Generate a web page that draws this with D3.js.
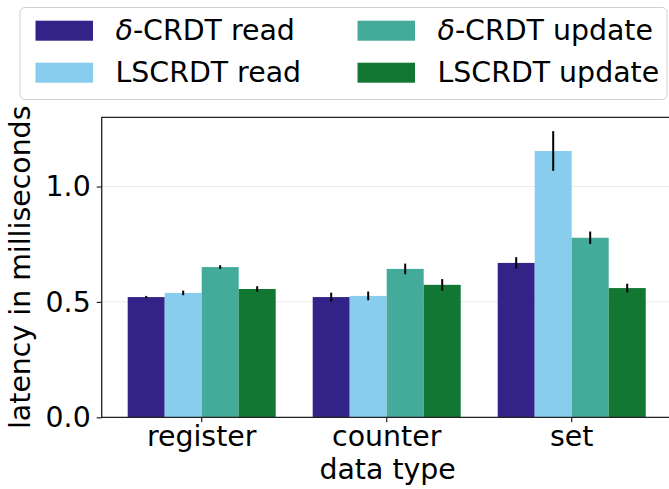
<!DOCTYPE html>
<html><head><meta charset="utf-8">
<script src="https://cdn.jsdelivr.net/npm/d3@7"></script>
<style>
html,body{margin:0;padding:0;background:#fff;}
svg{display:block;font-family:"DejaVu Sans",sans-serif;}
</style></head>
<body>
<script>
const categories = ["register", "counter", "set"];
const seriesNames = ["δ-CRDT read", "LSCRDT read", "δ-CRDT update", "LSCRDT update"];
const deltaRead = [0.521, 0.521, 0.669];
const lsRead = [0.539, 0.526, 1.154];
const deltaUpdate = [0.651, 0.643, 0.778];
const lsUpdate = [0.556, 0.574, 0.560];
const deltaReadErr = [0.005, 0.019, 0.025];
const lsReadErr = [0.010, 0.019, 0.086];
const deltaUpdateErr = [0.008, 0.023, 0.027];
const lsUpdateErr = [0.012, 0.025, 0.019];
const yTicks = [0.0, 0.5, 1.0];
const colors = ["#332288", "#88CCEE", "#44AA99", "#117733"];

const values = [deltaRead, lsRead, deltaUpdate, lsUpdate];
const errs = [deltaReadErr, lsReadErr, deltaUpdateErr, lsUpdateErr];

const W = 669, H = 489;
const L = 101.7, R = 671.6, T = 117.3, B = 417.3;
const FS = 28.4;

const svg = d3.select("body").append("svg").attr("width", W).attr("height", H);

const x = d3.scaleBand().domain(categories).range([109.2, 664.2]).paddingInner(0.2).paddingOuter(0.1);
const xs = d3.scaleBand().domain(seriesNames).range([0, x.bandwidth()]);
const y = d3.scaleLinear().domain([0, 1.3]).range([B, T]);

// grid
svg.append("g").selectAll("line").data(yTicks).join("line")
  .attr("x1", L).attr("x2", R)
  .attr("y1", d => y(d)).attr("y2", d => y(d))
  .attr("stroke", "#ebebeb").attr("stroke-width", 1);

// bars
const data = [];
categories.forEach((c, i) => seriesNames.forEach((s, j) => data.push({c, s, j, v: values[j][i], e: errs[j][i]})));
svg.append("g").selectAll("rect").data(data).join("rect")
  .attr("x", d => x(d.c) + xs(d.s))
  .attr("width", xs.bandwidth())
  .attr("y", d => y(d.v))
  .attr("height", d => y(0) - y(d.v))
  .attr("fill", d => colors[d.j]);

// error bars
svg.append("g").selectAll("line").data(data).join("line")
  .attr("x1", d => x(d.c) + xs(d.s) + xs.bandwidth() / 2)
  .attr("x2", d => x(d.c) + xs(d.s) + xs.bandwidth() / 2)
  .attr("y1", d => y(d.v - d.e))
  .attr("y2", d => y(d.v + d.e))
  .attr("stroke", "#000").attr("stroke-width", 2);

// axes
const yAxis = svg.append("g").attr("transform", `translate(${L},0)`)
  .call(d3.axisLeft(y).tickValues(yTicks).tickFormat(d3.format(".1f")).tickSize(5).tickPadding(6));
const xAxis = svg.append("g").attr("transform", `translate(0,${B})`)
  .call(d3.axisBottom(x).tickSize(5).tickPadding(4));
[yAxis, xAxis].forEach(g => {
  g.select(".domain").remove();
  g.selectAll("line").attr("stroke", "#222").attr("stroke-width", 1.2);
  g.selectAll("text").attr("fill", "#000").style("font-size", FS + "px").style("font-family", "DejaVu Sans");
});

// spines
svg.append("path")
  .attr("d", `M${R},${T}H${L}V${B}H${R}`)
  .attr("fill", "none").attr("stroke", "#222").attr("stroke-width", 1.3);

// axis labels
svg.append("text").attr("x", (L + R) / 2 + 1).attr("y", 479)
  .attr("text-anchor", "middle").style("font-size", FS + "px").text("data type");
svg.append("text").attr("transform", `translate(30,${(T + B) / 2}) rotate(-90)`)
  .attr("text-anchor", "middle").style("font-size", FS + "px").text("latency in milliseconds");

// legend
const lg = svg.append("g");
lg.append("rect").attr("x", 20).attr("y", 7.5).attr("width", 647).attr("height", 92)
  .attr("rx", 5).attr("fill", "#fff").attr("fill-opacity", 0.8).attr("stroke", "#d0d0d0").attr("stroke-width", 1);
const legendItems = [
  {j: 0, px: 35.5, py: 20.7},
  {j: 1, px: 35.5, py: 62.7},
  {j: 2, px: 357.5, py: 20.7},
  {j: 3, px: 357.5, py: 62.7}
];
legendItems.forEach(it => {
  lg.append("rect").attr("x", it.px).attr("y", it.py).attr("width", 57.5).attr("height", 20).attr("fill", colors[it.j]);
  const t = lg.append("text").attr("x", it.px + 80).attr("y", it.py + 19.5).style("font-size", FS + "px");
  const name = seriesNames[it.j];
  if (name.startsWith("δ")) {
    t.append("tspan").style("font-style", "italic").text("δ");
    t.append("tspan").text(name.slice(1));
  } else {
    t.text(name);
  }
});
</script>
</body></html>
